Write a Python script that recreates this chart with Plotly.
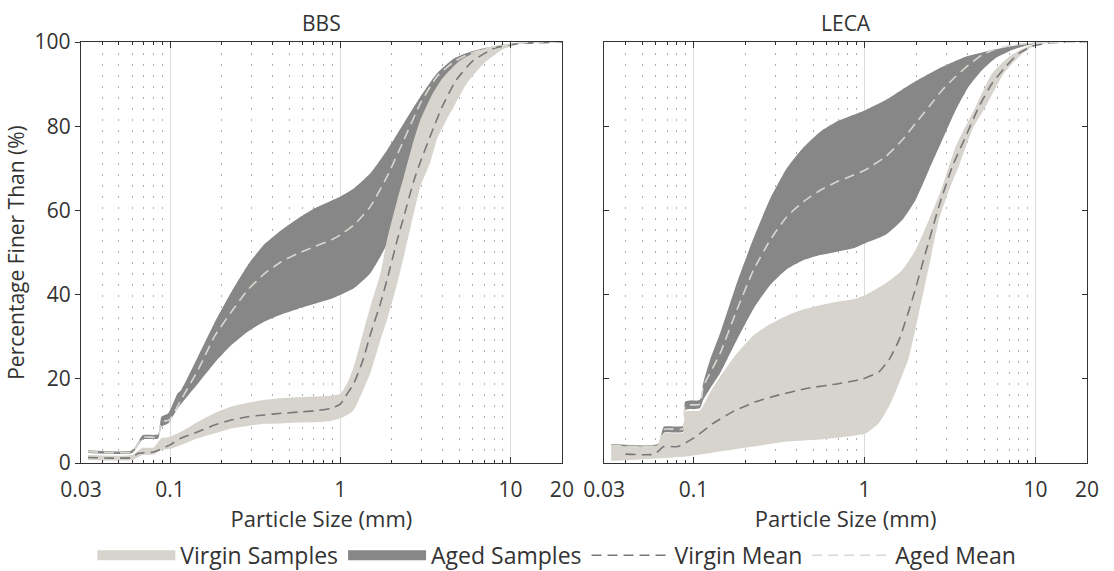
import math
import plotly.graph_objects as go

# ---------------- BBS ----------------
bbs_virgin_upper_x = [0.033, 0.060, 0.069, 0.080, 0.089, 0.099, 0.116, 0.146, 0.182, 0.229, 0.286, 0.359,
                      0.45, 0.564, 0.706, 0.885, 1.0, 1.1, 1.2, 1.36, 1.5, 1.72, 1.88, 2.16, 2.36, 2.7, 2.95,
                      3.46, 4.0, 5.0, 6.5, 8.5, 12, 20]
bbs_virgin_upper_y = [1.9, 1.9, 3.6, 3.7, 5.9, 6.2, 7.4, 9.8, 11.8, 13.4, 14.3, 15.0,
                      15.4, 15.6, 15.8, 16.0, 16.4, 19.0, 22.9, 30.9, 37.1, 45.0, 53.0, 62.5, 68.0, 76.7, 81.5,
                      87.5, 91.5, 95.5, 98.0, 99.3, 100, 100]
bbs_virgin_lower_x = [0.033, 0.060, 0.069, 0.080, 0.089, 0.099, 0.116, 0.146, 0.182, 0.229, 0.286, 0.359,
                      0.45, 0.564, 0.706, 0.885, 1.0, 1.1, 1.2, 1.36, 1.5, 1.72, 1.88, 2.16, 2.36, 2.7, 2.95,
                      3.38, 3.7, 4.2, 4.64, 5.5, 7.0, 9.0, 12, 20]
bbs_virgin_lower_y = [0.7, 0.7, 1.9, 2.0, 3.1, 3.3, 4.3, 5.9, 7.0, 8.2, 8.8, 9.3,
                      9.4, 9.6, 9.7, 10.0, 10.6, 11.4, 12.6, 17.3, 21.3, 29.2, 34.0, 42.7, 49.0, 59.3, 65.6,
                      71.5, 77.0, 81.5, 84.6, 90.0, 95.0, 98.3, 99.7, 100]
bbs_virgin_mean_x = [0.033, 0.060, 0.065, 0.080, 0.1, 0.116, 0.146, 0.182, 0.229, 0.286, 0.359, 0.45,
                     0.564, 0.706, 0.885, 1.0, 1.1, 1.2, 1.36, 1.5, 1.72, 1.88, 2.16, 2.36, 2.7, 2.95,
                     3.4, 3.96, 4.8, 6.0, 8.0, 11, 20]
bbs_virgin_mean_y = [1.3, 1.3, 2.3, 2.6, 4.3, 5.9, 7.4, 9.0, 10.2, 11.0, 11.4, 11.8,
                     12.1, 12.4, 13.0, 14.0, 16.5, 18.9, 24.5, 30.5, 37.9, 43.5, 53.0, 58.5, 67.0, 71.5,
                     78.0, 84.6, 91.0, 95.5, 98.5, 99.6, 100]

bbs_aged_upper_x = [0.033, 0.060, 0.069, 0.085, 0.089, 0.098, 0.111, 0.116, 0.146, 0.182, 0.229, 0.286,
                    0.359, 0.45, 0.564, 0.706, 0.885, 1.0, 1.2, 1.5, 1.88, 2.36, 2.95, 3.7, 4.64, 5.8,
                    7.3, 10, 14, 20]
bbs_aged_upper_y = [3.0, 3.0, 6.6, 6.8, 11.0, 11.9, 16.6, 17.3, 25.3, 33.2, 40.6, 47.0,
                    52.0, 55.3, 58.1, 60.5, 62.3, 63.3, 65.2, 68.8, 74.3, 80.7, 87.0, 92.6, 96.1, 97.7,
                    98.7, 99.5, 100, 100]
bbs_aged_lower_x = [0.033, 0.060, 0.069, 0.085, 0.089, 0.098, 0.111, 0.146, 0.182, 0.229, 0.286, 0.359,
                    0.45, 0.564, 0.706, 0.885, 1.0, 1.2, 1.5, 1.88, 2.16, 2.47, 2.95, 3.46, 4.0, 4.64,
                    5.8, 7.3, 10, 14, 20]
bbs_aged_lower_y = [2.4, 2.4, 5.6, 5.8, 8.6, 9.5, 13.0, 18.9, 23.7, 28.0, 31.2, 33.6,
                    35.3, 36.6, 37.8, 39.0, 39.9, 41.5, 45.1, 52.0, 60.0, 69.0, 78.5, 85.0, 89.5, 93.0,
                    96.5, 98.3, 99.5, 100, 100]
bbs_aged_mean_x = [0.033, 0.060, 0.069, 0.085, 0.089, 0.099, 0.116, 0.146, 0.182, 0.229, 0.286, 0.359,
                   0.45, 0.564, 0.706, 0.885, 1.0, 1.2, 1.5, 1.88, 2.36, 2.95, 3.7, 4.64, 5.8, 7.3,
                   10, 14, 20]
bbs_aged_mean_y = [2.7, 2.7, 6.1, 6.2, 9.8, 10.2, 15.0, 22.1, 30.0, 35.9, 41.1, 45.0,
                   47.8, 49.8, 51.4, 53.0, 54.2, 56.5, 60.9, 68.0, 76.7, 85.4, 91.8, 95.3, 97.3, 98.5,
                   99.5, 100, 100]

# ---------------- LECA ----------------
leca_virgin_upper_x = [0.033, 0.062, 0.067, 0.087, 0.0895, 0.109, 0.125, 0.131, 0.143, 0.179, 0.224, 0.281,
                       0.351, 0.44, 0.551, 0.689, 0.863, 1.01, 1.33, 1.66, 1.99, 2.38, 2.85, 3.41, 4.46,
                       5.58, 7.0, 8.5, 10, 14, 20]
leca_virgin_upper_y = [4.1, 4.3, 7.0, 7.2, 12.2, 12.5, 16.8, 18.1, 20.5, 26.0, 30.3, 33.0,
                       35.0, 36.5, 37.5, 38.3, 38.9, 39.9, 42.7, 45.8, 50.6, 57.7, 65.6, 75.1, 84.6,
                       92.6, 96.5, 98.5, 99.6, 100, 100]
leca_virgin_lower_x = [0.033, 0.087, 0.131, 0.224, 0.351, 0.551, 0.863, 1.01, 1.21, 1.39, 1.59, 1.82,
                       2.08, 2.38, 2.72, 3.1, 3.6, 4.3, 5.1, 6.53, 8.0, 9.57, 12, 20]
leca_virgin_lower_y = [0.5, 1.5, 2.5, 3.9, 5.1, 5.6, 6.5, 7.0, 9.4, 13.4, 18.9, 25.2,
                       35.6, 46.6, 57.7, 64.5, 71.0, 79.5, 84.6, 92.6, 96.5, 98.9, 99.8, 100]
leca_virgin_mean_x = [0.04, 0.059, 0.067, 0.081, 0.1, 0.13, 0.17, 0.233, 0.305, 0.456, 0.714, 0.98,
                      1.21, 1.39, 1.59, 1.9, 2.27, 2.72, 3.26, 3.9, 4.66, 5.58, 6.68, 7.98, 9.57, 12, 20]
leca_virgin_mean_y = [2.1, 2.1, 3.9, 3.9, 5.9, 9.4, 12.2, 14.6, 16.0, 17.7, 18.9, 20.0,
                      21.6, 24.5, 29.2, 38.7, 49.8, 60.9, 70.4, 77.5, 84.6, 90.2, 94.1, 97.3, 99.0, 99.8, 100]

leca_aged_upper_x = [0.033, 0.062, 0.067, 0.087, 0.0895, 0.109, 0.114, 0.125, 0.143, 0.179, 0.224, 0.281,
                     0.351, 0.44, 0.551, 0.689, 0.863, 1.01, 1.33, 1.9, 2.72, 3.9, 5.58, 7.98, 10, 14, 20]
leca_aged_upper_y = [4.5, 4.5, 8.6, 8.8, 14.6, 15.0, 19.0, 24.5, 30.8, 42.7, 53.3, 62.8,
                     70.0, 75.0, 78.7, 81.1, 82.7, 83.8, 86.2, 90.2, 93.7, 96.5, 98.1, 99.3, 99.7, 100, 100]
leca_aged_lower_x = [0.033, 0.062, 0.067, 0.087, 0.0895, 0.109, 0.114, 0.125, 0.143, 0.179, 0.224, 0.281,
                     0.351, 0.44, 0.551, 0.689, 0.863, 1.01, 1.33, 1.66, 1.99, 2.38, 2.85, 3.41, 4.06,
                     4.86, 5.8, 7.3, 9.1, 12, 20]
leca_aged_lower_y = [3.9, 3.9, 7.2, 7.4, 12.6, 13.0, 15.0, 17.7, 21.3, 29.2, 36.6, 42.3,
                     46.0, 48.2, 49.4, 50.2, 51.0, 52.2, 54.2, 57.7, 62.5, 69.6, 76.7, 83.8, 89.4,
                     93.3, 96.1, 98.1, 99.3, 100, 100]
leca_aged_mean_x = [0.033, 0.062, 0.067, 0.087, 0.0895, 0.109, 0.114, 0.143, 0.179, 0.224, 0.281, 0.351,
                    0.44, 0.551, 0.689, 0.863, 1.01, 1.33, 1.66, 1.99, 2.38, 2.85, 3.41, 4.06, 4.86,
                    5.8, 7.3, 10, 20]
leca_aged_mean_y = [4.2, 4.2, 8.0, 8.1, 13.6, 14.0, 18.1, 26.0, 36.3, 45.8, 53.0, 58.5,
                    62.1, 64.8, 66.8, 68.4, 69.6, 72.8, 76.7, 80.7, 84.6, 88.6, 91.8, 94.5, 96.9,
                    98.3, 99.3, 99.8, 100]

panel_titles = ["BBS", "LECA"]
x_tick_vals = [0.03, 0.1, 1, 10, 20]
x_tick_text = ["0.03", "0.1", "1", "10", "20"]
x_minor_vals = [0.04, 0.05, 0.06, 0.07, 0.08, 0.09,
                0.2, 0.3, 0.4, 0.5, 0.6, 0.7, 0.8, 0.9,
                2, 3, 4, 5, 6, 7, 8, 9]
y_tick_vals = [0, 20, 40, 60, 80, 100]

VIRGIN_FILL = "#d7d4ce"
AGED_FILL = "#878787"
VIRGIN_MEAN = "#777777"
AGED_MEAN = "#dad7d1"
INK = "#333333"
FONT = "Open Sans"
FS = 21
FS_LABEL = 22
FS_LEGEND = 23
SMOOTH = 0.5

panels = [
    dict(vu=(bbs_virgin_upper_x, bbs_virgin_upper_y), vl=(bbs_virgin_lower_x, bbs_virgin_lower_y),
         vm=(bbs_virgin_mean_x, bbs_virgin_mean_y), au=(bbs_aged_upper_x, bbs_aged_upper_y),
         al=(bbs_aged_lower_x, bbs_aged_lower_y), am=(bbs_aged_mean_x, bbs_aged_mean_y)),
    dict(vu=(leca_virgin_upper_x, leca_virgin_upper_y), vl=(leca_virgin_lower_x, leca_virgin_lower_y),
         vm=(leca_virgin_mean_x, leca_virgin_mean_y), au=(leca_aged_upper_x, leca_aged_upper_y),
         al=(leca_aged_lower_x, leca_aged_lower_y), am=(leca_aged_mean_x, leca_aged_mean_y)),
]


def band(upper, lower):
    ux, uy = upper
    lx, ly = lower
    return list(ux) + list(lx)[::-1], list(uy) + list(ly)[::-1]


fig = go.Figure()
for i, p in enumerate(panels):
    xa = "x" if i == 0 else "x2"
    ya = "y" if i == 0 else "y2"
    first = i == 0
    bx, by = band(p["au"], p["al"])
    fig.add_trace(go.Scatter(x=bx, y=by, fill="toself", fillcolor=AGED_FILL, mode="lines",
                             line=dict(width=0, color=AGED_FILL, shape="spline", smoothing=SMOOTH),
                             name="Aged Samples", showlegend=False, xaxis=xa, yaxis=ya, hoverinfo="skip"))
    bx, by = band(p["vu"], p["vl"])
    fig.add_trace(go.Scatter(x=bx, y=by, fill="toself", fillcolor=VIRGIN_FILL, mode="lines",
                             line=dict(width=0, color=VIRGIN_FILL, shape="spline", smoothing=SMOOTH),
                             name="Virgin Samples", showlegend=False, xaxis=xa, yaxis=ya, hoverinfo="skip"))
    fig.add_trace(go.Scatter(x=p["vm"][0], y=p["vm"][1], mode="lines",
                             line=dict(color=VIRGIN_MEAN, width=1.6, dash="10px,6px",
                                       shape="spline", smoothing=SMOOTH),
                             name="Virgin Mean", legendrank=3, showlegend=first, xaxis=xa, yaxis=ya))
    fig.add_trace(go.Scatter(x=p["am"][0], y=p["am"][1], mode="lines",
                             line=dict(color=AGED_MEAN, width=1.6, dash="10px,6px",
                                       shape="spline", smoothing=SMOOTH),
                             name="Aged Mean", legendrank=4, showlegend=first, xaxis=xa, yaxis=ya))

# legend keys for the two sample envelopes (solid blocks)
fig.add_trace(go.Scatter(x=[None], y=[None], mode="lines", line=dict(color=VIRGIN_FILL, width=14),
                         name="Virgin Samples", legendrank=1))
fig.add_trace(go.Scatter(x=[None], y=[None], mode="lines", line=dict(color=AGED_FILL, width=14),
                         name="Aged Samples", legendrank=2))

xaxis_common = dict(
    type="log", range=[math.log10(0.03), math.log10(20)],
    tickmode="array", tickvals=x_tick_vals, ticktext=x_tick_text,
    ticks="inside", ticklen=6, tickwidth=1, tickcolor=INK, ticklabelstandoff=8,
    showline=True, linecolor=INK, linewidth=1.3, mirror="ticks",
    showgrid=True, gridcolor="#dcdcdc", gridwidth=1, zeroline=False,
    minor=dict(tickmode="array", tickvals=x_minor_vals, ticks="inside", ticklen=3,
               tickcolor=INK, tickwidth=1, showgrid=True, gridcolor="#b0b0b0",
               griddash="2px,9px", gridwidth=1),
    tickfont=dict(size=FS, color=INK, family=FONT),
    title=dict(text="Particle Size (mm)", font=dict(size=FS_LABEL, color=INK, family=FONT), standoff=2),
)
yaxis_common = dict(
    range=[0, 100], tickmode="array", tickvals=y_tick_vals,
    ticklen=5, tickwidth=1, tickcolor=INK,
    showline=True, linecolor=INK, linewidth=1.3,
    showgrid=False, zeroline=False,
    tickfont=dict(size=FS, color=INK, family=FONT),
)

fig.update_layout(
    width=1114, height=571,
    margin=dict(l=81, r=27, t=42, b=108, autoexpand=False),
    paper_bgcolor="white", plot_bgcolor="white",
    font=dict(family=FONT, color=INK, size=FS),
    xaxis=dict(domain=[0, 0.478], anchor="y", **xaxis_common),
    xaxis2=dict(domain=[0.520, 1], anchor="y2", **xaxis_common),
    yaxis=dict(anchor="x", ticks="outside", mirror=True,
               title=dict(text="Percentage Finer Than (%)", font=dict(size=FS, color=INK, family=FONT),
                          standoff=4),
               **yaxis_common),
    yaxis3=dict(anchor="x", overlaying="y", side="right", range=[0, 100], tickmode="array",
                tickvals=y_tick_vals, ticks="inside", ticklen=5, tickwidth=1, tickcolor=INK,
                showticklabels=False, showgrid=False, zeroline=False, showline=False),
    yaxis2=dict(anchor="x2", ticks="inside", mirror="ticks", showticklabels=False, **yaxis_common),
    showlegend=True,
    legend=dict(orientation="h", x=0.473, xanchor="center", y=-0.168, yanchor="top",
                font=dict(size=FS_LEGEND, color=INK, family=FONT), itemwidth=78,
                bgcolor="rgba(0,0,0,0)", traceorder="normal"),
)

for i, t in enumerate(panel_titles):
    xr = "x domain" if i == 0 else "x2 domain"
    yr = "y domain" if i == 0 else "y2 domain"
    fig.add_annotation(text=t, x=0.5, y=1, xref=xr, yref=yr, xanchor="center", yanchor="bottom",
                       yshift=3, showarrow=False, font=dict(size=FS, color=INK, family=FONT))

fig.write_html("out.html")
